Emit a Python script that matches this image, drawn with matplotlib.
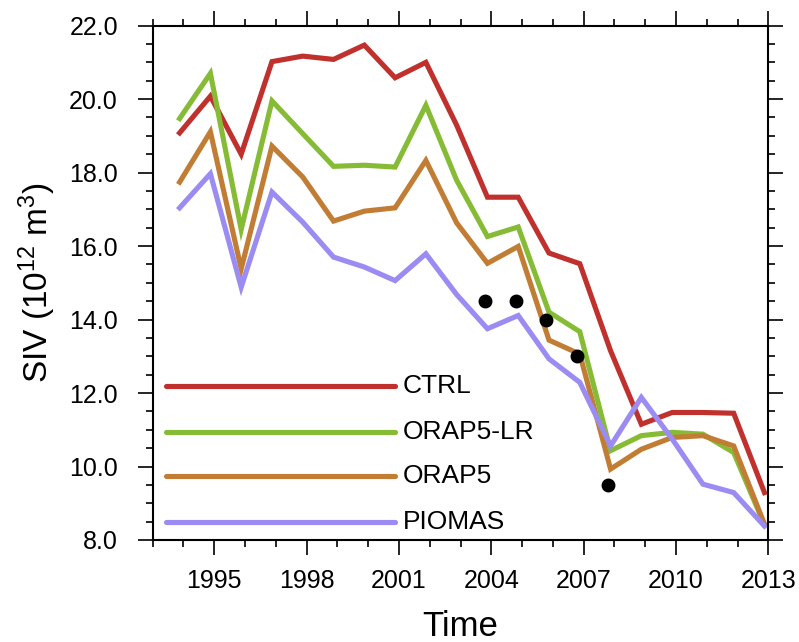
import matplotlib
matplotlib.use("Agg")
import matplotlib.pyplot as plt
import numpy as np
from matplotlib.ticker import MultipleLocator

# Sea ice volume, 10^12 m^3, one value per year
years = np.arange(1994, 2014)
ctrl = [19.08, 20.08, 18.50, 21.02, 21.17, 21.08, 21.47, 20.58, 21.00, 19.29,
        17.33, 17.33, 15.81, 15.52, 13.15, 11.15, 11.47, 11.47, 11.45, 9.29]
orap5_lr = [19.47, 20.70, 16.45, 19.95, 19.06, 18.17, 18.20, 18.15, 19.83, 17.79,
            16.26, 16.52, 14.20, 13.67, 10.43, 10.84, 10.93, 10.88, 10.38, 8.41]
orap5 = [17.74, 19.11, 15.38, 18.72, 17.88, 16.68, 16.95, 17.04, 18.33, 16.63,
         15.53, 15.99, 13.44, 13.06, 9.93, 10.47, 10.79, 10.84, 10.56, 8.43]
piomas = [17.04, 17.97, 14.88, 17.47, 16.65, 15.70, 15.43, 15.06, 15.79, 14.68,
          13.75, 14.11, 12.93, 12.29, 10.56, 11.88, 10.75, 9.52, 9.29, 8.38]

# observations (black dots)
obs_years = np.arange(2004, 2009)
obs_vals = [14.5, 14.5, 14.0, 13.0, 9.5]

names = ["CTRL", "ORAP5-LR", "ORAP5", "PIOMAS"]
colors = ["#C0312E", "#86BC35", "#C27D35", "#9A8CF2"]

plt.rcParams['font.family'] = ['Liberation Sans', 'DejaVu Sans']
plt.rcParams['mathtext.fontset'] = 'custom'
plt.rcParams['mathtext.rm'] = 'Liberation Sans'
plt.rcParams['mathtext.it'] = 'Liberation Sans:italic'

fig = plt.figure(figsize=(7.99, 6.42), dpi=100)
ax = fig.add_axes([0.1911, 0.1589, 0.9616 - 0.1911, 0.9601 - 0.1589])

# time stamps sit a little before the year mark
t = years - 0.125
for vals, c in zip([ctrl, orap5_lr, orap5, piomas], colors):
    ax.plot(t, vals, color=c, linewidth=3.7, solid_joinstyle='miter', zorder=2)

ax.plot(obs_years - 0.21, obs_vals, 'o', color='black', markersize=9, zorder=3)

# legend drawn as lines inside the plot
leg_y = [12.18, 10.95, 9.73, 8.50]
for name, c, ly in zip(names, colors, leg_y):
    ax.plot([1993.43, 2000.87], [ly, ly], color=c, linewidth=3.7,
            solid_capstyle='round', zorder=2)
    ax.text(2001.12, ly, name, fontsize=19, va='center', ha='left')

ax.set_xlim(1993, 2013)
ax.set_ylim(8, 22)
ax.xaxis.set_minor_locator(MultipleLocator(1))
ax.yaxis.set_minor_locator(MultipleLocator(0.5))
ax.set_xticks(np.arange(1995, 2014, 3))
ax.set_yticks(np.arange(8, 22.1, 2))
ax.set_yticklabels([f"{v:.1f}" for v in np.arange(8, 22.1, 2)])

ax.tick_params(which='both', direction='out', top=True, right=True, width=1.2)
ax.tick_params(which='major', length=11)
ax.tick_params(which='minor', length=5)
ax.tick_params(axis='x', which='major', labelsize=18, pad=10)
ax.tick_params(axis='y', which='major', labelsize=18, pad=14)
for s in ax.spines.values():
    s.set_linewidth(1.5)

ax.set_xlabel("Time", fontsize=25, labelpad=12)
ax.set_ylabel("SIV (10$^{12}$ m$^{3}$)", fontsize=24, labelpad=8)

fig.savefig("out.png", dpi=100)
